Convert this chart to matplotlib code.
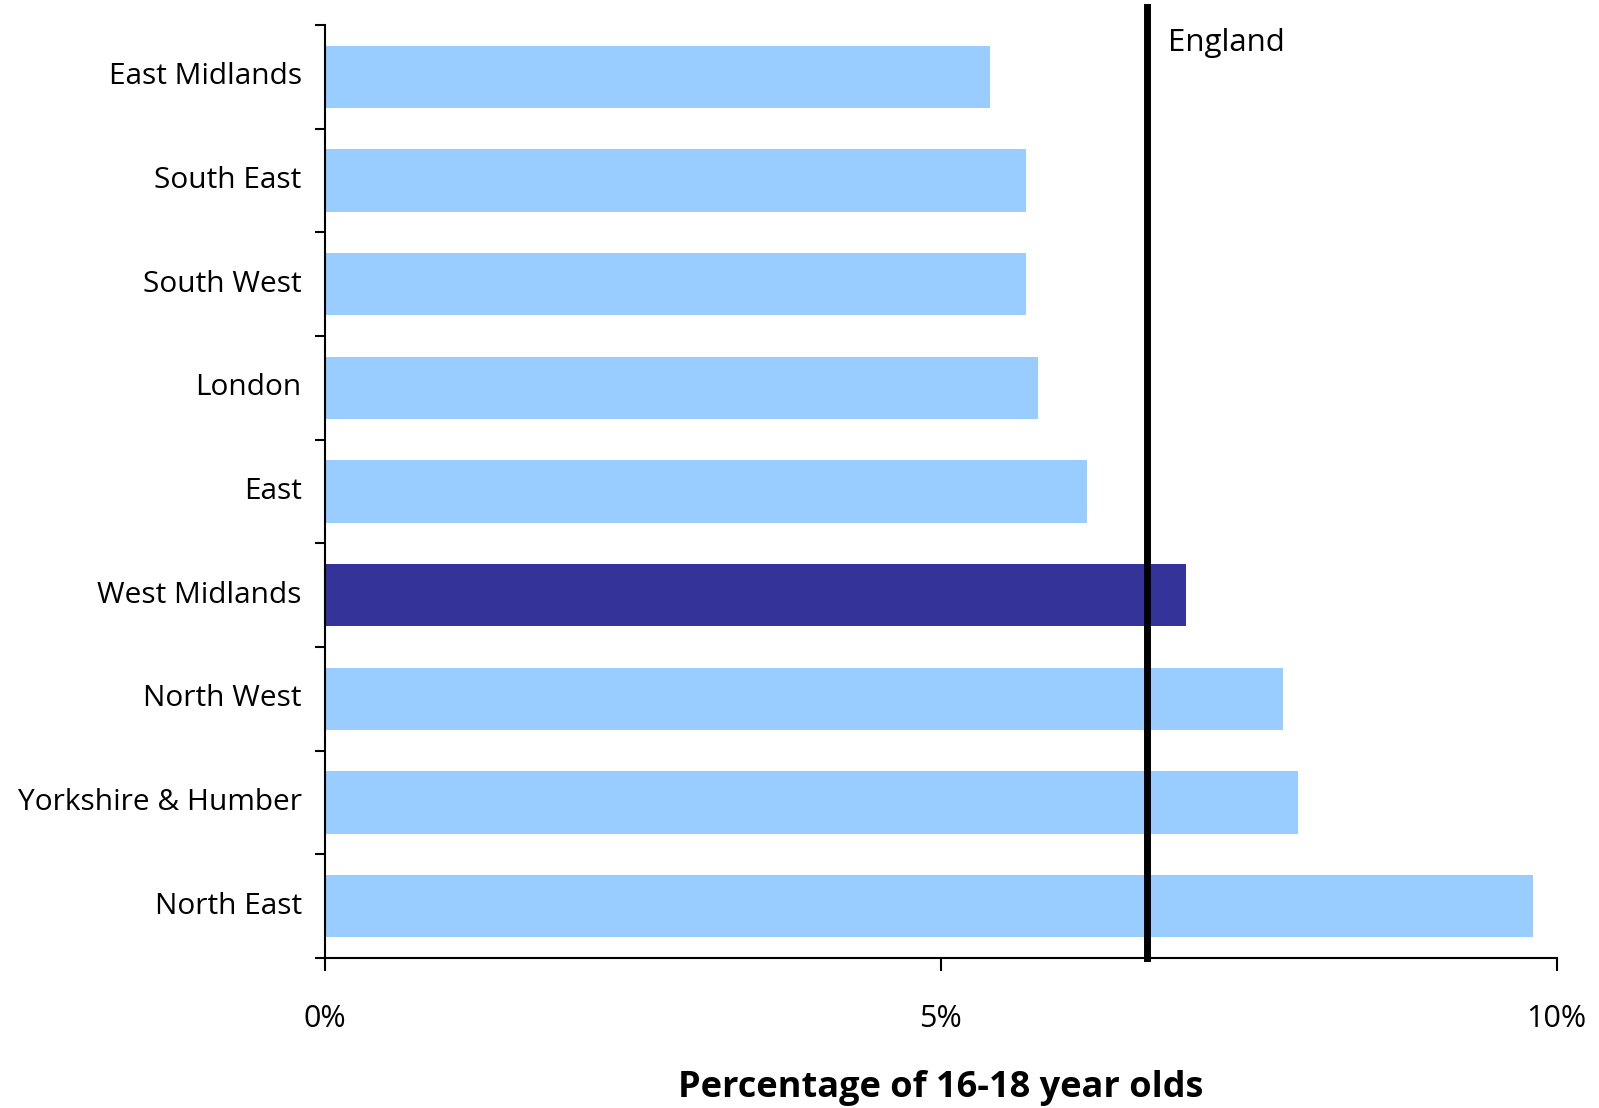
import matplotlib
matplotlib.use("Agg")
import matplotlib.pyplot as plt
import numpy as np

regions = ["East Midlands", "South East", "South West", "London", "East",
           "West Midlands", "North West", "Yorkshire & Humber", "North East"]
values = [5.40, 5.69, 5.69, 5.79, 6.19, 6.99, 7.78, 7.90, 9.81]
highlight = "West Midlands"
england = 6.67
xticks = [0, 5, 10]
xticklabels = ["0%", "5%", "10%"]

plt.rcParams['font.family'] = ['Open Sans', 'DejaVu Sans']

fig = plt.figure(figsize=(15.99, 11.08), dpi=100)
ax = fig.add_axes([0.2034, 0.1354, 0.9735 - 0.2034, 0.9774 - 0.1354])

colors = ["#333399" if r == highlight else "#99CCFF" for r in regions]
y = np.arange(len(regions))
ax.barh(y, values, height=0.6, color=colors, zorder=2)

ax.set_ylim(len(regions) - 0.5, -0.5)
ax.set_xlim(0, 10)

ax.axvline(england, ymin=0, ymax=1.019, color="black", lw=5, clip_on=False, zorder=3)
ax.text(england + 0.17, -0.33, "England", fontsize=22.5, ha="left", va="center",
        transform=ax.transData, clip_on=False)

for s in ["top", "right"]:
    ax.spines[s].set_visible(False)
for s in ["left", "bottom"]:
    ax.spines[s].set_linewidth(1.5)

ax.set_yticks(y)
ax.set_yticklabels(regions, fontsize=21.5, va="center")
for lbl in ax.get_yticklabels():
    lbl.set_y(lbl.get_position()[1])
ax.tick_params(axis="y", which="major", length=0, pad=17)
ax.set_yticks(np.arange(len(regions) + 1) - 0.5, minor=True)
ax.tick_params(axis="y", which="minor", length=7, width=1.5, direction="out")

ax.set_xticks(xticks)
ax.set_xticklabels(xticklabels, fontsize=22)
ax.tick_params(axis="x", which="major", length=9, width=1.5, pad=24)

ax.set_xlabel("Percentage of 16-18 year olds", fontsize=26, fontweight="bold", labelpad=26)

fig.savefig("out.png", dpi=100)
